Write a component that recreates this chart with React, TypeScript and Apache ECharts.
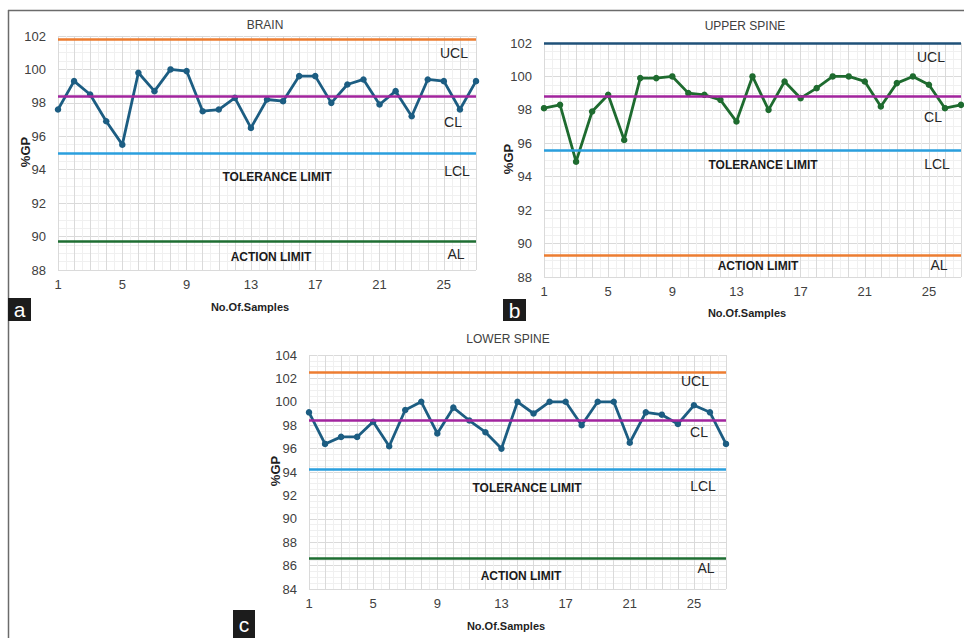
import React, { useEffect, useRef } from "react";
import * as echarts from "echarts";

// ---------- DATA ----------
const samples = [1, 2, 3, 4, 5, 6, 7, 8, 9, 10, 11, 12, 13, 14, 15, 16, 17, 18, 19, 20, 21, 22, 23, 24, 25, 26, 27];

const brainGP = [97.6, 99.3, 98.5, 96.9, 95.5, 99.8, 98.7, 100.0, 99.9, 97.5, 97.6, 98.3, 96.5, 98.2, 98.1, 99.6, 99.6, 98.0, 99.1, 99.4, 97.9, 98.7, 97.2, 99.4, 99.3, 97.6, 99.3];
const upperSpineGP = [98.1, 98.3, 94.9, 97.9, 98.9, 96.2, 99.9, 99.9, 100.0, 99.0, 98.9, 98.6, 97.3, 100.0, 98.0, 99.7, 98.7, 99.3, 100.0, 100.0, 99.7, 98.2, 99.6, 100.0, 99.5, 98.1, 98.3];
const lowerSpineGP = [99.1, 96.4, 97.0, 97.0, 98.3, 96.2, 99.3, 100.0, 97.3, 99.5, 98.4, 97.4, 96.0, 100.0, 99.0, 100.0, 100.0, 98.0, 100.0, 100.0, 96.5, 99.1, 98.9, 98.1, 99.7, 99.1, 96.4];

const limitNames = ["UCL", "CL", "LCL", "AL"];
const brainLimits = [101.8, 98.4, 95.0, 89.7];
const upperSpineLimits = [102.0, 98.8, 95.6, 89.3];
const lowerSpineLimits = [102.5, 98.4, 94.2, 86.6];

const panelTitles = ["BRAIN", "UPPER SPINE", "LOWER SPINE"];
const panelLetters = ["a", "b", "c"];
const yAxisRanges = [
  [88, 102],
  [88, 102],
  [84, 104],
];
const xTickLabels = [1, 5, 9, 13, 17, 21, 25];

// ---------- STYLE ----------
const FONT = "'Liberation Sans', Arial, Helvetica, sans-serif";
const ORANGE = "#ED7D31";
const PURPLE = "#A2259E";
const SKY = "#2A9FDE";
const GREEN = "#1E6E32";
const NAVY = "#1F5179";
const TEAL = "#1C5D82";
const DGREEN = "#1E6B2F";

const panels = [
  {
    values: brainGP,
    limits: brainLimits,
    limitColors: [ORANGE, PURPLE, SKY, GREEN],
    lineColor: TEAL,
    grid: { left: 58, top: 36, width: 418, height: 234 },
    title: [265, 25],
    yName: [25, 152],
    xName: [250, 307],
    limitLabelPos: [
      [454, 53],
      [453, 122],
      [457, 171],
      [456, 254],
    ],
    tol: [277, 177],
    act: [271, 257],
    letterBox: { x: 8, y: 298, width: 23, height: 23 },
  },
  {
    values: upperSpineGP,
    limits: upperSpineLimits,
    limitColors: [NAVY, PURPLE, SKY, ORANGE],
    lineColor: DGREEN,
    grid: { left: 544, top: 43, width: 419, height: 234 },
    title: [745, 26],
    yName: [508, 159],
    xName: [747, 313],
    limitLabelPos: [
      [931, 57],
      [933, 117],
      [937, 164],
      [939, 265],
    ],
    tol: [763, 165],
    act: [758, 266],
    letterBox: { x: 503, y: 299, width: 23, height: 22 },
  },
  {
    values: lowerSpineGP,
    limits: lowerSpineLimits,
    limitColors: [ORANGE, PURPLE, SKY, GREEN],
    lineColor: TEAL,
    grid: { left: 309, top: 355, width: 417, height: 234 },
    title: [508, 339],
    yName: [275, 471],
    xName: [506, 626],
    limitLabelPos: [
      [695, 381],
      [699, 432],
      [703, 486],
      [706, 568],
    ],
    tol: [527, 488],
    act: [521, 576],
    letterBox: { x: 233, y: 610, width: 22, height: 28 },
  },
];

function txt(x: number, y: number, text: string, opts: any = {}) {
  return {
    type: "text",
    x,
    y,
    rotation: opts.rotation || 0,
    silent: true,
    z: 100,
    style: {
      text,
      fill: opts.fill || "#262626",
      font: `${opts.weight || "normal"} ${opts.size || 13}px ${FONT}`,
      textAlign: "center",
      textVerticalAlign: "middle",
    },
  };
}

export default function App() {
  const ref = useRef<HTMLDivElement>(null);

  useEffect(() => {
    if (!ref.current) return;
    const chart = echarts.init(ref.current, undefined, { renderer: "svg" });

    const grid = panels.map((p) => ({ ...p.grid, containLabel: false }));

    const xAxis = panels.map((_, i) => ({
      type: "value",
      gridIndex: i,
      min: samples[0],
      max: samples[samples.length - 1],
      interval: 1,
      axisLine: { show: false },
      axisTick: { show: false },
      axisLabel: {
        color: "#404040",
        fontSize: 13,
        fontFamily: FONT,
        margin: 8,
        formatter: (v: number) => (xTickLabels.indexOf(v) >= 0 ? String(v) : ""),
      },
      splitLine: { show: true, lineStyle: { color: "#dadada", width: 1 } },
      minorTick: { show: false, splitNumber: 2 },
      minorSplitLine: { show: true, lineStyle: { color: "#f0f0f0", width: 1 } },
    }));

    const yAxis = panels.map((_, i) => ({
      type: "value",
      gridIndex: i,
      min: yAxisRanges[i][0],
      max: yAxisRanges[i][1],
      interval: 2,
      axisLine: { show: false },
      axisTick: { show: false },
      axisLabel: { color: "#404040", fontSize: 13, fontFamily: FONT, margin: 12 },
      splitLine: { show: true, lineStyle: { color: "#dadada", width: 1 } },
      minorTick: { show: false, splitNumber: 4 },
      minorSplitLine: { show: true, lineStyle: { color: "#f0f0f0", width: 1 } },
    }));

    const series: any[] = [];
    panels.forEach((p, i) => {
      series.push({
        type: "line",
        name: `${panelTitles[i]} limits`,
        xAxisIndex: i,
        yAxisIndex: i,
        data: [],
        silent: true,
        z: 1,
        markLine: {
          silent: true,
          symbol: ["none", "none"],
          label: { show: false },
          data: p.limits.map((v, j) => ({
            name: limitNames[j],
            yAxis: v,
            lineStyle: { color: p.limitColors[j], width: 2.6, type: "solid" },
          })),
        },
      });
      series.push({
        type: "line",
        name: panelTitles[i],
        xAxisIndex: i,
        yAxisIndex: i,
        data: samples.map((s, k) => [s, p.values[k]]),
        symbol: "circle",
        symbolSize: 6.5,
        showSymbol: true,
        lineStyle: { color: p.lineColor, width: 2.8 },
        itemStyle: { color: p.lineColor },
        z: 3,
      });
    });

    const graphic: any[] = [
      {
        type: "line",
        silent: true,
        shape: { x1: 8, y1: 10.5, x2: 964, y2: 10.5 },
        style: { stroke: "#6b6b6b", lineWidth: 1.5 },
      },
      {
        type: "line",
        silent: true,
        shape: { x1: 8.5, y1: 10, x2: 8.5, y2: 638 },
        style: { stroke: "#6b6b6b", lineWidth: 1.5 },
      },
    ];

    panels.forEach((p, i) => {
      graphic.push(txt(p.title[0], p.title[1], panelTitles[i], { size: 12, fill: "#404040" }));
      graphic.push(
        txt(p.yName[0], p.yName[1], "%GP", { size: 13, weight: "bold", rotation: Math.PI / 2, fill: "#1f1f1f" })
      );
      graphic.push(txt(p.xName[0], p.xName[1], "No.Of.Samples", { size: 11, weight: "bold", fill: "#1f1f1f" }));
      limitNames.forEach((n, j) => {
        graphic.push(txt(p.limitLabelPos[j][0], p.limitLabelPos[j][1], n, { size: 14, fill: "#262626" }));
      });
      graphic.push(txt(p.tol[0], p.tol[1], "TOLERANCE LIMIT", { size: 12, weight: "bold", fill: "#1a1a1a" }));
      graphic.push(txt(p.act[0], p.act[1], "ACTION LIMIT", { size: 12, weight: "bold", fill: "#1a1a1a" }));
      graphic.push({
        type: "rect",
        silent: true,
        z: 100,
        shape: p.letterBox,
        style: { fill: "#1c1c1c" },
      });
      graphic.push(
        txt(
          p.letterBox.x + p.letterBox.width / 2,
          p.letterBox.y + Math.min(p.letterBox.height, 23) / 2 + (i === 2 ? 3 : 0),
          panelLetters[i],
          { size: 21, fill: "#ffffff" }
        )
      );
    });

    chart.setOption({
      animation: false,
      backgroundColor: "#ffffff",
      grid,
      xAxis,
      yAxis,
      series,
      graphic,
    });

    return () => chart.dispose();
  }, []);

  return (
    <div
      ref={ref}
      style={{ position: "fixed", left: 0, top: 0, width: 964, height: 638, background: "#fff" }}
    />
  );
}
